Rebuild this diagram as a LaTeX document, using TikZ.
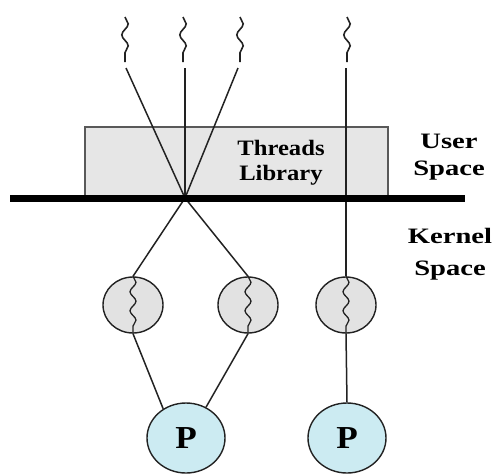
\documentclass[tikz,border=0pt]{standalone}
\usepackage{fontspec}
\usetikzlibrary{shapes.geometric,decorations.pathmorphing}
\newfontfamily\boxfont{Liberation Serif}[BoldFeatures={FakeStretch=1.12}]
\newfontfamily\sidefont{Liberation Serif}[BoldFeatures={FakeStretch=1.3}]
\newfontfamily\procfont{Liberation Serif}[BoldFeatures={FakeStretch=1.1}]
\definecolor{libgray}{HTML}{E6E6E6}
\definecolor{kthreadgray}{HTML}{E2E2E2}
\definecolor{procblue}{HTML}{CCEBF2}
\definecolor{edgecol}{HTML}{222222}
\tikzset{
  link/.style={draw=edgecol, line width=1.5pt},
  squiggle/.style={draw=edgecol, line width=1.6pt, decorate,
    decoration={snake, amplitude=3.2pt, segment length=22pt}},
  insquiggle/.style={draw=edgecol, line width=1.3pt, decorate,
    decoration={snake, amplitude=3pt, segment length=19pt}},
  libbox/.style={draw=edgecol!75, fill=libgray, line width=1.4pt, inner sep=0pt},
  kthread/.style={ellipse, draw=edgecol, fill=kthreadgray, line width=1.4pt,
    minimum width=60pt, minimum height=56pt, inner sep=0pt},
  proc/.style={ellipse, draw=edgecol, fill=procblue, line width=1.4pt,
    minimum width=78pt, minimum height=70pt, inner sep=0pt,
    font=\procfont\bfseries\fontsize{32}{34}\selectfont},
  boxlabel/.style={align=center, inner sep=0pt,
    font=\boxfont\bfseries\fontsize{22}{25}\selectfont},
}
\begin{document}
\begin{tikzpicture}[x=1pt, y=-1pt]
\useasboundingbox (0,0) rectangle (495,475);

% threads library box (user space)
\node[libbox, minimum width=303pt, minimum height=71pt] (lib) at (236.5,162.5) {};
\node[boxlabel] (libtext) at (281,162.5) {Threads\\Library};

% user-level threads
\foreach \n/\x in {1/125,2/183,3/240,4/347} {
  \coordinate (u\n top) at (\x,17);
  \coordinate (u\n bot) at (\x,62);
  \draw[squiggle] (u\n top) -- (u\n bot);
}
\coordinate (l1) at (126,68);
\coordinate (l2) at (185,68);
\coordinate (l3) at (238,68);
\coordinate (l4) at (346,68);
\coordinate (X) at (185,198);

% kernel-level threads
\node[kthread] (k1) at (133,305) {};
\node[kthread] (k2) at (248,305) {};
\node[kthread] (k3) at (346,305) {};
\foreach \k in {k1,k2,k3} {
  \draw[insquiggle] (\k.north) -- (\k.south);
}

% processors
\node[proc] (p1) at (186,438) {P};
\node[proc] (p2) at (347,438) {P};

% mappings
\draw[link] (l1) -- (X);
\draw[link] (l2) -- (X);
\draw[link] (l3) -- (X);
\draw[link] (X) -- (k1.north);
\draw[link] (X) -- (k2.north);
\draw[link] (l4) -- (k3.north);
\draw[link] (k1.south) -- (p1.128);
\draw[link] (k2.south) -- (p1.57);
\draw[link] (k3.south) -- (p2.north);

% user / kernel boundary
\coordinate (bL) at (10,198);
\coordinate (bR) at (465,198);
\draw[line width=7pt] (bL) -- (bR);

% side labels
\node[align=center, inner sep=0pt, font=\sidefont\bfseries\fontsize{22}{27}\selectfont]
  (userlbl) at (449,157) {User\\Space};
\node[align=center, inner sep=0pt, font=\sidefont\bfseries\fontsize{22}{32}\selectfont]
  (kernellbl) at (450,254) {Kernel\\Space};
\end{tikzpicture}
\end{document}
